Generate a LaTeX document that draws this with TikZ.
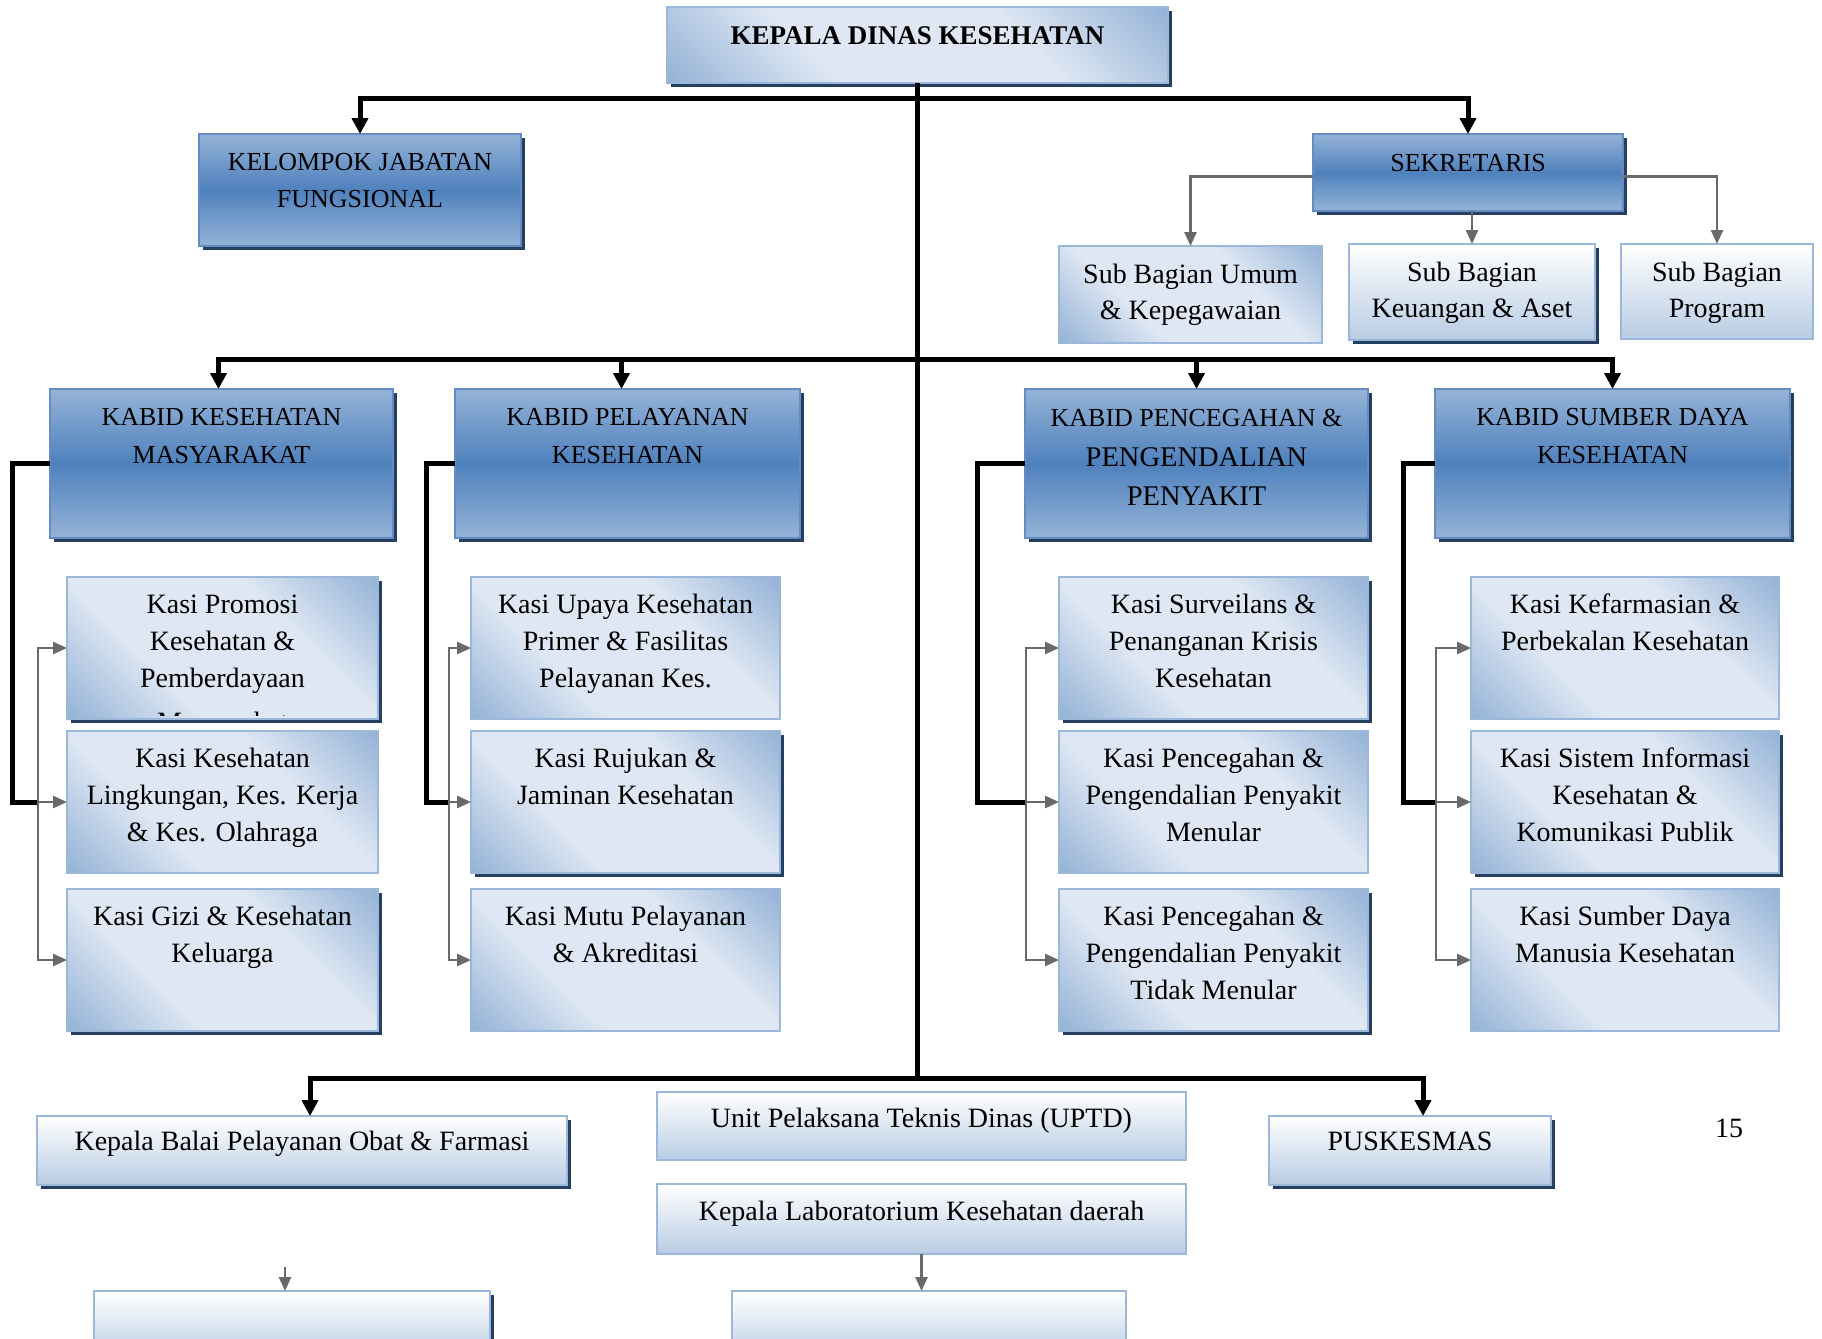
\documentclass[tikz,border=0pt]{standalone}
\usepackage{fontspec}
\setmainfont{Liberation Serif}
\usetikzlibrary{arrows.meta,shadows}
\definecolor{mblue}{RGB}{79,129,189}
\definecolor{lblue}{RGB}{149,179,215}
\definecolor{pale}{RGB}{222,231,243}
\definecolor{pale2}{RGB}{184,204,228}
\definecolor{navy}{RGB}{36,63,96}
\definecolor{kborder}{RGB}{100,140,195}
\definecolor{sborder}{RGB}{155,184,219}
\definecolor{agrey}{RGB}{105,105,105}
\pgfdeclareverticalshading{kasish}{100bp}{color(0bp)=(lblue); color(15bp)=(lblue); color(36bp)=(pale); color(64bp)=(pale); color(85bp)=(lblue); color(100bp)=(lblue)}
\newcommand\bt[4]{\parbox[c][#2pt][t]{#1pt}{\centering\vspace*{\dimexpr#3pt-17pt\relax}\strut#4\par}}
\begin{document}
\begin{tikzpicture}[x=1pt,y=-1pt,
  box/.style={rectangle, inner sep=0pt, outer sep=0pt, anchor=north west},
  kabid/.style={box, draw=kborder, line width=2pt, top color=lblue, bottom color=lblue, middle color=mblue, font=\fontsize{26}{38}\selectfont},
  kasi/.style={box, draw=sborder, line width=2pt, shade, shading=kasish, shading angle=-45, font=\fontsize{28}{37.3}\selectfont},
  lite/.style={box, draw=sborder, line width=2pt, top color=white, bottom color=pale2, font=\fontsize{28}{36}\selectfont},
  shad/.style={drop shadow={shadow xshift=4pt, shadow yshift=-4pt, opacity=1, fill=navy}},
  blk/.style={line width=5pt, black},
  blkarr/.style={blk, -{Triangle[length=16pt,width=16pt]}},
  gry/.style={line width=2.5pt, agrey},
  gryarr/.style={gry, -{Triangle[length=14pt,width=12pt]}}
]
\useasboundingbox (0,0) rectangle (1822,1338);
\clip (0,0) rectangle (1822,1338);
\fill[white] (0,0) rectangle (1822,1338);

% top level
\node[kasi, shad, font=\fontsize{27}{36}\selectfont\bfseries] (top) at (667,7) {\bt{501}{76}{29}{KEPALA DINAS KESEHATAN}};
\node[kabid, shad, font=\fontsize{26}{37}\selectfont] (kel) at (199,134) {\bt{322}{112}{28}{KELOMPOK JABATAN\\FUNGSIONAL}};
\node[kabid, shad] (sek) at (1313,134) {\bt{310}{77}{28}{SEKRETARIS}};

% sub bagian
\node[kasi, font=\fontsize{28}{36}\selectfont] (sb1) at (1059,246) {\bt{263}{97}{29}{Sub Bagian Umum\\\& Kepegawaian}};
\node[lite, shad] (sb2) at (1349,244) {\bt{246}{96}{29}{Sub Bagian\\Keuangan \& Aset}};
\node[lite] (sb3) at (1621,244) {\bt{192}{95}{29}{Sub Bagian\\Program}};

% kabid
\node[kabid, shad] (k1) at (50,389) {\bt{343}{149}{27}{KABID KESEHATAN\\MASYARAKAT}};
\node[kabid, shad] (k2) at (455,389) {\bt{345}{149}{27}{KABID PELAYANAN\\KESEHATAN}};
\node[kabid, shad, font=\fontsize{26}{39.5}\selectfont] (k3) at (1025,389) {\bt{343}{149}{27}{KABID PENCEGAHAN \&\\{\fontsize{28.5}{39.5}\selectfont PENGENDALIAN}\\{\fontsize{28.5}{39.5}\selectfont PENYAKIT}}};
\node[kabid, shad] (k4) at (1435,389) {\bt{355}{149}{27}{KABID SUMBER DAYA\\KESEHATAN}};

% kasi column 1
\node[kasi, shad] (c1r1) at (67,577) {\bt{311}{142}{27}{Kasi Promosi\\Kesehatan \&\\Pemberdayaan}};
\begin{scope}
\clip (c1r1.north west) rectangle ([yshift=4pt]c1r1.south east);
\node[anchor=base, inner sep=0pt, font=\fontsize{28}{37.3}\selectfont] (c1r1m) at (222.5,731) {Masyarakat};
\end{scope}
\node[kasi] (c1r2) at (67,731) {\bt{311}{142}{27}{Kasi Kesehatan\\Lingkungan, Kes. Kerja\\\& Kes. Olahraga}};
\node[kasi, shad] (c1r3) at (67,889) {\bt{311}{142}{27}{Kasi Gizi \& Kesehatan\\Keluarga}};

% kasi column 2
\node[kasi] (c2r1) at (471,577) {\bt{309}{142}{27}{Kasi Upaya Kesehatan\\Primer \& Fasilitas\\Pelayanan Kes.}};
\node[kasi, shad] (c2r2) at (471,731) {\bt{309}{142}{27}{Kasi Rujukan \&\\Jaminan Kesehatan}};
\node[kasi] (c2r3) at (471,889) {\bt{309}{142}{27}{Kasi Mutu Pelayanan\\\& Akreditasi}};

% kasi column 3
\node[kasi, shad] (c3r1) at (1059,577) {\bt{309}{142}{27}{Kasi Surveilans \&\\Penanganan Krisis\\Kesehatan}};
\node[kasi] (c3r2) at (1059,731) {\bt{309}{142}{27}{Kasi Pencegahan \&\\Pengendalian Penyakit\\Menular}};
\node[kasi, shad] (c3r3) at (1059,889) {\bt{309}{142}{27}{Kasi Pencegahan \&\\Pengendalian Penyakit\\Tidak Menular}};

% kasi column 4
\node[kasi] (c4r1) at (1471,577) {\bt{308}{142}{27}{Kasi Kefarmasian \&\\Perbekalan Kesehatan}};
\node[kasi, shad] (c4r2) at (1471,731) {\bt{308}{142}{27}{Kasi Sistem Informasi\\Kesehatan \&\\Komunikasi Publik}};
\node[kasi] (c4r3) at (1471,889) {\bt{308}{142}{27}{Kasi Sumber Daya\\Manusia Kesehatan}};

% bottom
\node[lite, shad] (balai) at (37,1116) {\bt{530}{69}{26}{Kepala Balai Pelayanan Obat \& Farmasi}};
\node[lite] (uptd) at (657,1092) {\bt{529}{68}{27}{Unit Pelaksana Teknis Dinas (UPTD)}};
\node[lite] (lab) at (657,1184) {\bt{529}{70}{28}{Kepala Laboratorium Kesehatan daerah}};
\node[lite, shad] (pusk) at (1269,1116) {\bt{282}{69}{26}{PUSKESMAS}};
\node[lite, shad] (bx1) at (94,1291) {\bt{396}{70}{26}{}};
\node[lite] (bx2) at (732,1291) {\bt{394}{70}{26}{}};
\node[inner sep=0pt, font=\fontsize{28}{34}\selectfont] (pg) at (1729,1128) {15};

% coordinates
\coordinate (h1) at (top.south |- 0,98);
\coordinate (h2) at (top.south |- 0,359);
\coordinate (h3) at (top.south |- 0,1078);

% main trunk and buses
\draw[blk] (top.south) -- (h3);
\draw[blkarr] (h1) -| (kel.north);
\draw[blkarr] (h1) -| (sek.north);
\draw[blkarr] (h2) -| ([xshift=-3pt]k1.north);
\draw[blkarr] (h2) -| ([xshift=-6pt]k2.north);
\draw[blkarr] (h2) -| (k3.north);
\draw[blkarr] (h2) -| (k4.north);
\draw[blkarr] (h3) -| ([xshift=8pt]balai.north);
\draw[blkarr] (h3) -| ([xshift=13pt]pusk.north);

% sekretaris
\draw[gryarr] ([yshift=-4pt]sek.west) -| (sb1.north);
\draw[gryarr] (sek.south -| sb2.north) -- (sb2.north);
\draw[gryarr] ([yshift=-4pt]sek.east) -| (sb3.north);

% kabid elbows and grey buses
\coordinate (g1) at ([xshift=-29pt]c1r2.west);
\coordinate (g2) at ([xshift=-22pt]c2r2.west);
\coordinate (g3) at ([xshift=-33pt]c3r2.west);
\coordinate (g4) at ([xshift=-35pt]c4r2.west);
\draw[blk] (k1.west) -- ++(-38,0) |- (g1);
\draw[blk] (k2.west) -- ++(-29,0) |- (g2);
\draw[blk] (k3.west) -- ++(-48,0) |- (g3);
\draw[blk] (k4.west) -- ++(-32,0) |- (g4);
\foreach \g/\c in {g1/c1, g2/c2, g3/c3, g4/c4}{
  \draw[gryarr] (\g) |- (\c r1.west);
  \draw[gryarr] (\g) -- (\c r2.west);
  \draw[gryarr] (\g) |- (\c r3.west);
}

% bottom small arrows
\coordinate (a1) at (285,1267);
\draw[gryarr] (a1) -- (a1 |- bx1.north);
\draw[gryarr] (lab.south) -- (lab.south |- bx2.north);
\end{tikzpicture}
\end{document}
